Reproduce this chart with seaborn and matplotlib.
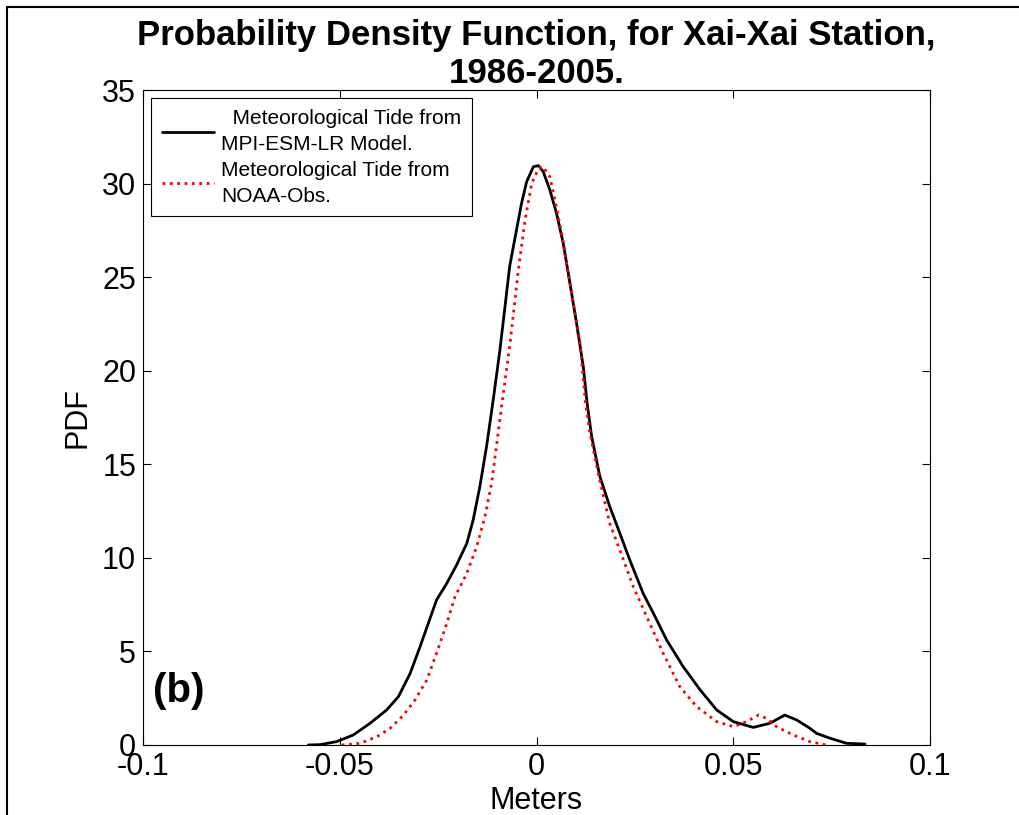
import matplotlib
matplotlib.use("Agg")
import matplotlib.pyplot as plt
from matplotlib.lines import Line2D
import pandas as pd
import seaborn as sns

# values
model_x = [-0.0580, -0.0550, -0.0508, -0.0466, -0.0423, -0.0381, -0.0351, -0.0321,
           -0.0296, -0.0275, -0.0254, -0.0228, -0.0203, -0.0177, -0.0161, -0.0144,
           -0.0127, -0.0110, -0.0093, -0.0068, -0.0038, -0.0025, -0.0008, 0.0005,
           0.0017, 0.0034, 0.0051, 0.0068, 0.0085, 0.0102, 0.0119, 0.0129,
           0.0140, 0.0161, 0.0186, 0.0212, 0.0237, 0.0271, 0.0297, 0.0331,
           0.0373, 0.0416, 0.0458, 0.0500, 0.0551, 0.0593, 0.0631, 0.0661,
           0.0695, 0.0712, 0.0746, 0.0788, 0.0835]
model_pdf = [0.00, 0.02, 0.18, 0.53, 1.16, 1.87, 2.58, 3.83,
             5.25, 6.50, 7.75, 8.64, 9.62, 10.78, 12.02, 13.80,
             15.94, 18.44, 21.10, 25.60, 28.95, 30.10, 30.90, 30.96,
             30.64, 29.66, 28.40, 26.80, 24.67, 22.50, 20.20, 18.20,
             16.50, 14.35, 12.75, 11.30, 9.89, 8.10, 7.04, 5.60,
             4.18, 2.94, 1.87, 1.25, 0.94, 1.16, 1.60, 1.34,
             0.89, 0.62, 0.36, 0.09, 0.05]

obs_x = [-0.0495, -0.0448, -0.0406, -0.0372, -0.0338, -0.0309, -0.0279, -0.0254,
         -0.0228, -0.0207, -0.0177, -0.0152, -0.0131, -0.0114, -0.0101, -0.0088,
         -0.0067, -0.0046, -0.0029, -0.0012, 0.0005, 0.0017, 0.0034, 0.0047,
         0.0064, 0.0085, 0.0110, 0.0125, 0.0136, 0.0157, 0.0186, 0.0212,
         0.0246, 0.0280, 0.0322, 0.0364, 0.0407, 0.0458, 0.0500, 0.0534,
         0.0564, 0.0585, 0.0610, 0.0653, 0.0695, 0.0737]
obs_pdf = [0.00, 0.09, 0.44, 0.89, 1.60, 2.40, 3.47, 4.90,
           6.50, 7.93, 9.18, 10.60, 12.20, 14.00, 16.10, 18.20,
           21.50, 25.40, 28.06, 30.02, 30.80, 30.90, 30.36, 29.10,
           27.34, 24.67, 21.60, 18.20, 16.65, 14.50, 11.85, 10.40,
           8.46, 6.86, 4.90, 3.12, 2.05, 1.25, 0.98, 1.25,
           1.60, 1.42, 0.98, 0.53, 0.18, 0.00]

model_label = "  Meteorological Tide from\nMPI-ESM-LR Model."
obs_label = "Meteorological Tide from\nNOAA-Obs."

x_ticks = [-0.1, -0.05, 0, 0.05, 0.1]
x_ticklabels = ["-0.1", "-0.05", "0", "0.05", "0.1"]
y_ticks = [0, 5, 10, 15, 20, 25, 30, 35]

model_df = pd.DataFrame({"Meters": model_x, "PDF": model_pdf})
obs_df = pd.DataFrame({"Meters": obs_x, "PDF": obs_pdf})

sns.set_style("ticks")
plt.rcParams["font.family"] = ["Liberation Sans", "DejaVu Sans"]
plt.rcParams["text.color"] = "black"
plt.rcParams["axes.labelcolor"] = "black"

fig = plt.figure(figsize=(10.19, 8.15), dpi=100)
ax = fig.add_axes([143 / 1019, 70 / 815, 787 / 1019, 655 / 815])

sns.lineplot(data=model_df, x="Meters", y="PDF", ax=ax, color="black",
             linewidth=2, sort=False, label=model_label)
sns.lineplot(data=obs_df, x="Meters", y="PDF", ax=ax, color="red",
             linewidth=2, linestyle=":", sort=False, label=obs_label)

ax.set_xlim(-0.1, 0.1)
ax.set_ylim(0, 35)
ax.set_xticks(x_ticks)
ax.set_xticklabels(x_ticklabels)
ax.set_yticks(y_ticks)
ax.tick_params(direction="in", length=6, width=0.8, top=True, right=True,
               labelsize=22, pad=5, colors="black")
for s in ax.spines.values():
    s.set_visible(True)
    s.set_linewidth(0.8)
    s.set_color("black")

ax.set_xlabel("Meters", fontsize=22, labelpad=3, color="black")
ax.set_ylabel("PDF", fontsize=22, labelpad=7, color="black")
ax.set_title("Probability Density Function, for Xai-Xai Station,\n1986-2005.",
             fontsize=25, fontweight="bold", linespacing=1.2, pad=5, color="black")

ax.text(-0.0975, 2.9, "(b)", fontsize=29, fontweight="bold", va="center",
        ha="left", color="black")

leg = ax.legend(loc="upper left", fontsize=15, frameon=True, fancybox=False,
                framealpha=1, edgecolor="black", handlelength=2.5,
                handletextpad=0.35, borderaxespad=0.4, labelspacing=0.3,
                borderpad=0.5)
leg.get_frame().set_linewidth(0.8)
for t in leg.get_texts():
    t.set_linespacing(1.5)
    t.set_color("black")

# outer frame lines of the original picture
fig.add_artist(Line2D([7 / 1019, 1], [1 - 7 / 815, 1 - 7 / 815], color="black", linewidth=1.5))
fig.add_artist(Line2D([7 / 1019, 7 / 1019], [0, 1 - 7 / 815], color="black", linewidth=1.5))

fig.savefig("out.png", dpi=100)
